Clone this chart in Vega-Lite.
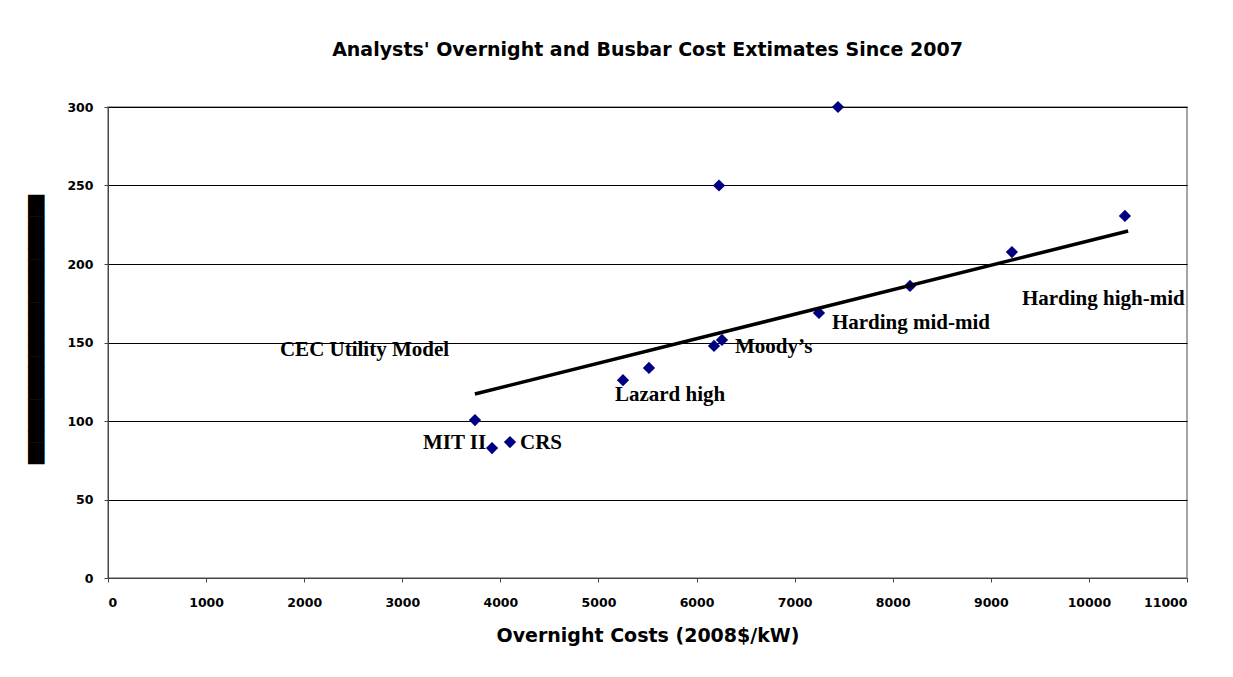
{
  "$schema": "https://vega.github.io/schema/vega-lite/v6.json",
  "width": 1079,
  "height": 471,
  "autosize": "none",
  "padding": {"left": 108, "top": 107, "right": 46, "bottom": 99},
  "background": "white",
  "title": {
    "text": "Analysts' Overnight and Busbar Cost Extimates Since 2007",
    "font": "DejaVu Sans",
    "fontSize": 19,
    "fontWeight": "bold",
    "color": "black",
    "anchor": "middle",
    "offset": 41
  },
  "config": {
    "view": {"stroke": "#888888", "strokeWidth": 1.5},
    "axis": {
      "labelFont": "DejaVu Sans",
      "labelFontSize": 12.5,
      "labelFontWeight": "bold",
      "labelColor": "black",
      "domainColor": "#444444",
      "tickColor": "#444444",
      "tickSize": 4,
      "titleColor": "black"
    }
  },
  "datasets": {
    "points": [
      {"cost": 3741, "busbar": 100.6},
      {"cost": 3915, "busbar": 82.8},
      {"cost": 4098, "busbar": 86.6},
      {"cost": 5250, "busbar": 126},
      {"cost": 5515, "busbar": 133.8},
      {"cost": 6229, "busbar": 250},
      {"cost": 6178, "busbar": 147.8},
      {"cost": 6259, "busbar": 151.6},
      {"cost": 7442, "busbar": 300},
      {"cost": 7248, "busbar": 168.8},
      {"cost": 8176, "busbar": 186},
      {"cost": 9215, "busbar": 207.6},
      {"cost": 10367, "busbar": 230.6}
    ],
    "trend": [
      {"cost": 3740, "busbar": 117.2},
      {"cost": 10400, "busbar": 221}
    ],
    "labels": [
      {"cost": 1753, "busbar": 145.2, "label": "CEC Utility Model"},
      {"cost": 3211, "busbar": 86, "label": "MIT II"},
      {"cost": 4200, "busbar": 86, "label": "CRS"},
      {"cost": 5168, "busbar": 116.6, "label": "Lazard high"},
      {"cost": 6392, "busbar": 147.1, "label": "Moody’s"},
      {"cost": 7380, "busbar": 162.4, "label": "Harding mid-mid"},
      {"cost": 9317, "busbar": 177.7, "label": "Harding high-mid"}
    ]
  },
  "layer": [
    {
      "data": {"name": "points"},
      "mark": {"type": "point", "shape": "diamond", "filled": true, "size": 150, "color": "#000080", "opacity": 1},
      "encoding": {
        "x": {
          "field": "cost", "type": "quantitative",
          "scale": {"domain": [0, 11000], "nice": false},
          "axis": {
            "values": [0, 1000, 2000, 3000, 4000, 5000, 6000, 7000, 8000, 9000, 10000, 11000],
            "format": "d",
            "grid": false,
            "labelPadding": 14,
            "title": "Overnight Costs (2008$/kW)",
            "titleFont": "DejaVu Sans",
            "titleFontSize": 19,
            "titleFontWeight": "bold",
            "titlePadding": 18
          }
        },
        "y": {
          "field": "busbar", "type": "quantitative",
          "scale": {"domain": [0, 300], "nice": false},
          "axis": {
            "values": [0, 50, 100, 150, 200, 250, 300],
            "grid": true,
            "gridColor": "black",
            "gridWidth": 1,
            "gridOpacity": 1,
            "labelPadding": 11,
            "title": "█████████████████████████",
            "titleFont": "DejaVu Sans",
            "titleFontSize": 14,
            "titleFontWeight": "normal",
            "titleX": -72,
            "titleY": 222,
            "titleAlign": "center",
            "titleBaseline": "middle",
            "titleAngle": -90
          }
        }
      }
    },
    {
      "data": {"name": "trend"},
      "mark": {"type": "line", "color": "black", "strokeWidth": 3.5},
      "encoding": {
        "x": {"field": "cost", "type": "quantitative"},
        "y": {"field": "busbar", "type": "quantitative"}
      }
    },
    {
      "data": {"name": "labels"},
      "mark": {"type": "text", "font": "Liberation Serif", "fontSize": 21, "fontWeight": "bold", "align": "left", "baseline": "middle", "color": "black"},
      "encoding": {
        "x": {"field": "cost", "type": "quantitative"},
        "y": {"field": "busbar", "type": "quantitative"},
        "text": {"field": "label"}
      }
    }
  ]
}
